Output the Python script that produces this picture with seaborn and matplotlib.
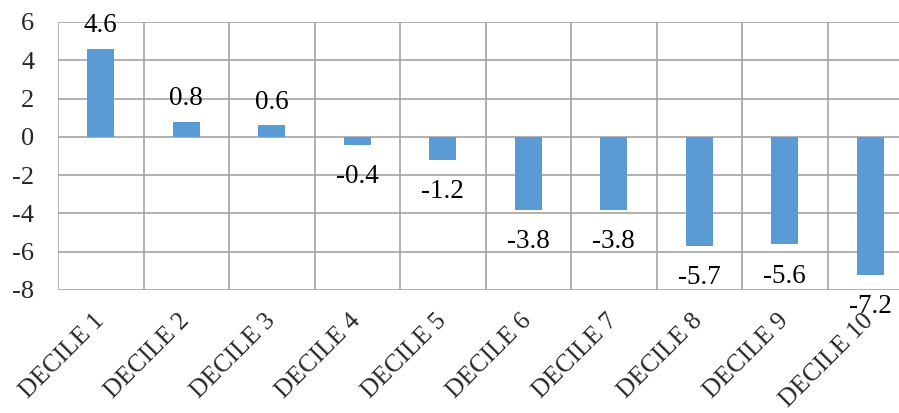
import matplotlib
matplotlib.use("Agg")
import matplotlib.pyplot as plt
from matplotlib.ticker import FixedLocator
import seaborn as sns
import pandas as pd

categories = ["DECILE 1", "DECILE 2", "DECILE 3", "DECILE 4", "DECILE 5",
              "DECILE 6", "DECILE 7", "DECILE 8", "DECILE 9", "DECILE 10"]
values = [4.6, 0.8, 0.6, -0.4, -1.2, -3.8, -3.8, -5.7, -5.6, -7.2]
y_ticks = [-8, -6, -4, -2, 0, 2, 4, 6]

sns.set_theme(style="white")
plt.rcParams["font.family"] = ["Liberation Serif", "DejaVu Serif"]

df = pd.DataFrame({"decile": categories, "value": values})

fig = plt.figure(figsize=(8.99, 4.13), dpi=100)
ax = fig.add_axes([58 / 899, 1 - 290 / 413, 855 / 899, 268 / 413])

sns.barplot(data=df, x="decile", y="value", color="#5B9BD5", saturation=1,
            width=0.31, linewidth=0, edgecolor="none", ax=ax, zorder=3)

ax.set_xlim(-0.5, len(categories) - 0.5)
ax.set_ylim(-8, 6)
ax.set_yticks(y_ticks)
ax.set_yticklabels([str(t) for t in y_ticks])

# grid: horizontal at each y tick, vertical between categories
ax.xaxis.set_minor_locator(FixedLocator([i - 0.5 for i in range(len(categories) + 1)]))
ax.grid(axis="y", which="major", color="#A3A3A3", linewidth=1.2, zorder=0)
ax.grid(axis="x", which="minor", color="#A3A3A3", linewidth=1.2, zorder=0)
ax.grid(axis="x", which="major", visible=False)
ax.set_axisbelow(True)

for side in ["top", "right", "bottom", "left"]:
    ax.spines[side].set_visible(False)

ax.tick_params(axis="both", which="both", length=0)
ax.tick_params(axis="y", labelsize=19, pad=17)
ax.set_xticks(range(len(categories)))
ax.set_xticklabels(categories, rotation=45, ha="right", va="center",
                   rotation_mode="anchor", fontsize=18.3)
ax.tick_params(axis="x", pad=20)
ax.set_xlabel("")
ax.set_ylabel("")

# value labels at bar ends
for i, v in enumerate(values):
    if v >= 0:
        ax.annotate(f"{v:.1f}", xy=(i, v), xytext=(0, 12), textcoords="offset points",
                    ha="center", va="baseline", fontsize=19.5, color="black", zorder=5)
    else:
        ax.annotate(f"{v:.1f}", xy=(i, v), xytext=(0, -14), textcoords="offset points",
                    ha="center", va="top", fontsize=19.5, color="black", zorder=5)

fig.savefig("out.png", dpi=100)
